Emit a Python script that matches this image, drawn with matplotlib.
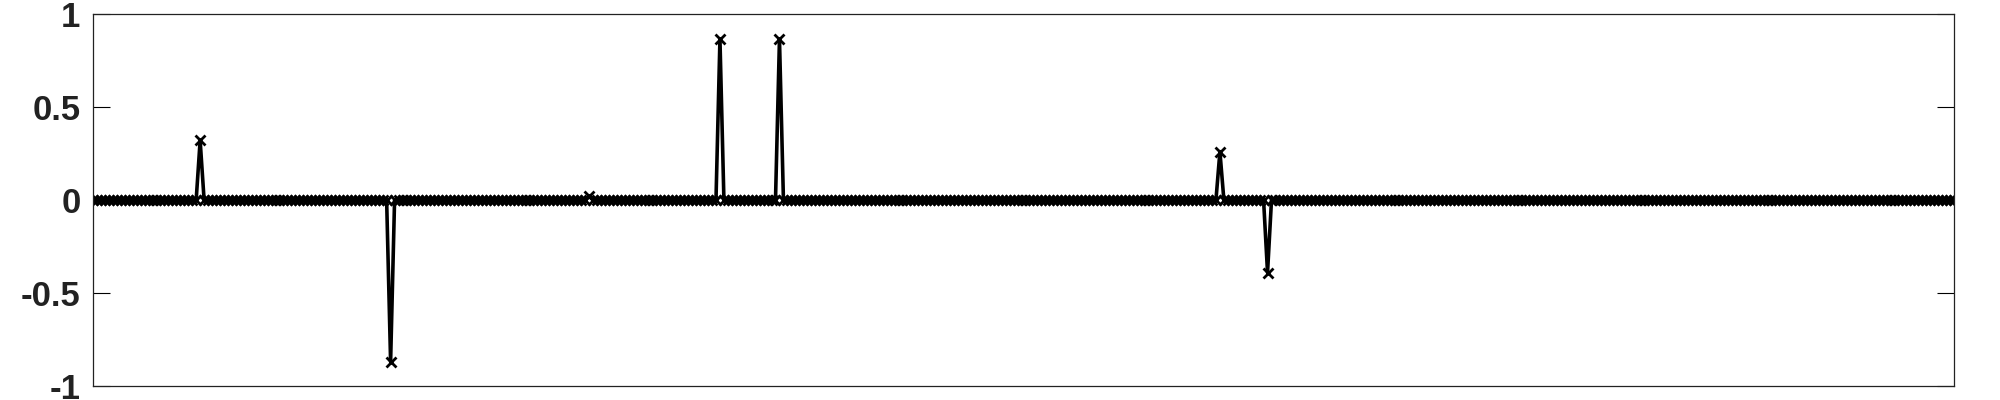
import numpy as np
import matplotlib
matplotlib.use("Agg")
import matplotlib.pyplot as plt
from matplotlib.ticker import FixedLocator, FixedFormatter

plt.rcParams['font.family'] = ['Liberation Sans', 'DejaVu Sans']
plt.rcParams['axes.unicode_minus'] = False

# signal is zero everywhere except a handful of samples
numSamples = 470
spikeIndex = [27, 75, 125, 158, 173, 284, 296]
spikeValue = [0.32, -0.87, 0.02, 0.865, 0.865, 0.26, -0.39]

yTicks = [-1, -0.5, 0, 0.5, 1]
yTickLabels = ["-1", "-0.5", "0", "0.5", "1"]

samples = np.arange(1, numSamples + 1)
signal = np.zeros(numSamples)
for idx, val in zip(spikeIndex, spikeValue):
    signal[idx] = val

fig = plt.figure(figsize=(20, 4), dpi=100)
ax = fig.add_axes([0.0465, 0.035, 0.9305, 0.93])

ax.plot(samples, signal, color="black", linewidth=2.6,
        marker="x", markersize=6.5, markeredgewidth=2.0, clip_on=True)

ax.set_xlim(1, numSamples)
ax.set_ylim(-1, 1)
ax.yaxis.set_major_locator(FixedLocator(yTicks))
ax.yaxis.set_major_formatter(FixedFormatter(yTickLabels))
ax.set_xticks([])

ax.tick_params(axis="y", direction="in", length=12, width=0.8,
               left=True, right=True, labelsize=25, pad=9)
for lbl in ax.get_yticklabels():
    lbl.set_fontweight("bold")
    lbl.set_color("#222222")

for spine in ax.spines.values():
    spine.set_linewidth(0.9)
    spine.set_color("#222222")

plt.savefig("out.png", dpi=100)
plt.close(fig)
